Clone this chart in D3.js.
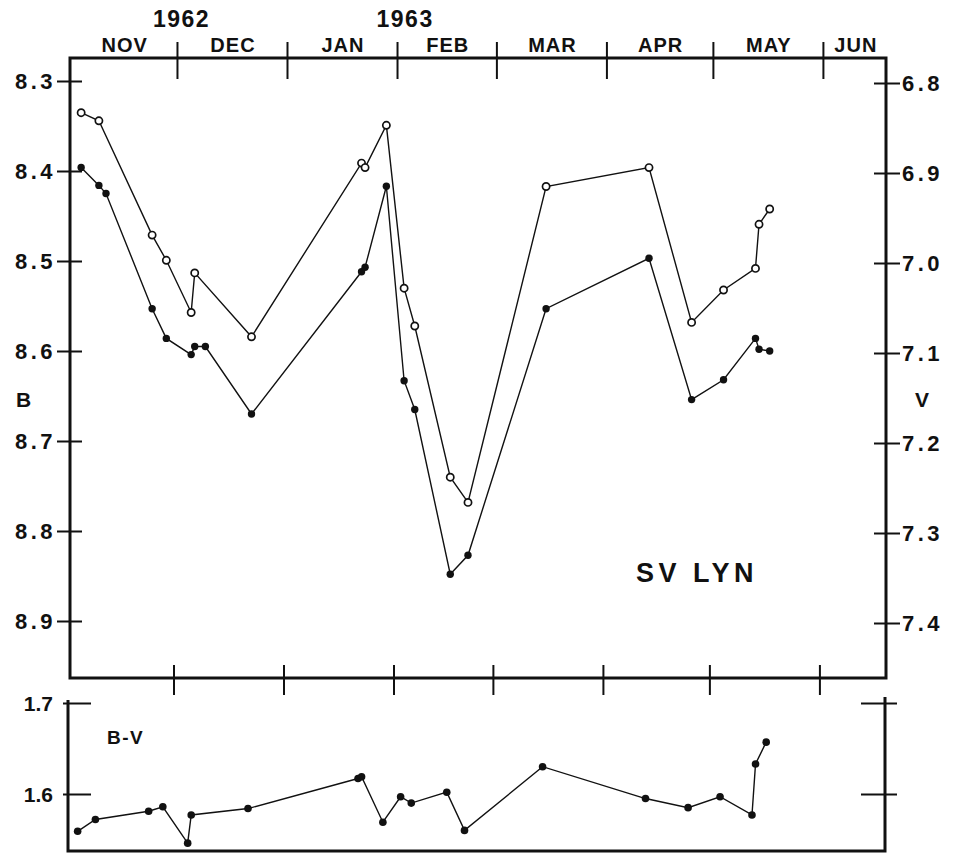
<!DOCTYPE html>
<html>
<head>
<meta charset="utf-8">
<script src="https://d3js.org/d3.v7.min.js"></script>
<style>
body { margin: 0; background: #fff; }
svg text { font-family: "Liberation Sans", Arial, sans-serif; font-weight: bold; fill: #111; }
</style>
</head>
<body>
<script>
/* SV Lyn, B and V light curve with B-V colour
 * nov 1962 - may 1963
 */

// nights with V and B-V
var dates = ["1962-11-04","1962-11-09","1962-11-24","1962-11-28","1962-12-05","1962-12-06","1962-12-22",
  "1963-01-22","1963-01-23","1963-01-29","1963-02-03","1963-02-06","1963-02-16","1963-02-21",
  "1963-03-15","1963-04-13","1963-04-25","1963-05-04","1963-05-13","1963-05-14","1963-05-17"];
var vMag = [6.833,6.842,6.969,6.997,7.055,7.011,7.082,
  6.889,6.894,6.847,7.028,7.070,7.238,7.266,
  6.915,6.894,7.066,7.030,7.006,6.957,6.940];
var bvColor = [1.559,1.572,1.581,1.586,1.546,1.577,1.584,
  1.617,1.619,1.569,1.597,1.590,1.602,1.560,
  1.630,1.595,1.585,1.597,1.577,1.633,1.657];

// B has two extra nights (nov 11, dec 9)
var bDates = ["1962-11-04","1962-11-09","1962-11-11","1962-11-24","1962-11-28","1962-12-05","1962-12-06","1962-12-09","1962-12-22",
  "1963-01-22","1963-01-23","1963-01-29","1963-02-03","1963-02-06","1963-02-16","1963-02-21",
  "1963-03-15","1963-04-13","1963-04-25","1963-05-04","1963-05-13","1963-05-14","1963-05-17"];
var bMag = [8.396,8.416,8.425,8.553,8.586,8.604,8.595,8.595,8.670,
  8.512,8.507,8.417,8.633,8.665,8.848,8.827,
  8.553,8.497,8.654,8.632,8.586,8.598,8.600];

var months = ["NOV","DEC","JAN","FEB","MAR","APR","MAY","JUN"];
var monthStarts = ["1962-11-01","1962-12-01","1963-01-01","1963-02-01","1963-03-01","1963-04-01","1963-05-01","1963-06-01"];
var years = ["1962","1963"];
var yearDates = ["1962-12-02","1963-02-03"];

var bTicks = [8.3,8.4,8.5,8.6,8.7,8.8,8.9];
var vTicks = [6.8,6.9,7.0,7.1,7.2,7.3,7.4];
var bvTicks = [1.6,1.7];

var parse = d3.utcParse("%Y-%m-%d");
var fmt = d3.format(".1f");

var svg = d3.select("body")
            .append("svg")
            .attr("width", 954)
            .attr("height", 853);

// frames
var box = {left: 70, right: 886, top: 58, bottom: 678};
var low = {left: 68, right: 885, top: 697, bottom: 851};

// scales
var x = d3.scaleUtc()
    .domain([parse("1962-11-01"), parse("1963-06-19")])
    .range([70.5, 886.8]);
// the lower panel sits a few px to the left in the original
var xLow = x.copy().range([67, 883.3]);

var yB = d3.scaleLinear().domain([8.3, 8.9]).range([81, 621]);
var yV = d3.scaleLinear().domain([6.8, 7.4]).range([83, 623]);
var yBV = d3.scaleLinear().domain([1.6, 1.7]).range([794, 703]);

// join the arrays
var vData = dates.map(function(d, i) { return {date: parse(d), mag: vMag[i]}; });
var bData = bDates.map(function(d, i) { return {date: parse(d), mag: bMag[i]}; });
var bvData = dates.map(function(d, i) { return {date: parse(d), mag: bvColor[i]}; });

// main box
svg.append("rect")
    .attr("x", box.left)
    .attr("y", box.top)
    .attr("width", box.right - box.left)
    .attr("height", box.bottom - box.top)
    .style("fill", "none")
    .style("stroke", "#111")
    .style("stroke-width", 3);

// lower box, open at the top
svg.append("path")
    .attr("d", "M" + low.left + "," + 700 + "V" + low.bottom + "H" + low.right + "V" + low.top)
    .style("fill", "none")
    .style("stroke", "#111")
    .style("stroke-width", 3);

// month ticks top
var monthTickDates = monthStarts.slice(1).map(parse);
var topAxis = svg.append("g")
    .attr("transform", "translate(0," + box.top + ")")
    .call(d3.axisTop(x).tickValues(monthTickDates).tickFormat("").tickSizeOuter(0));
topAxis.select(".domain").remove();
topAxis.selectAll(".tick line")
    .attr("y1", 21).attr("y2", -16)
    .style("stroke", "#111").style("stroke-width", 2);

// month ticks bottom
var botAxis = svg.append("g")
    .attr("transform", "translate(0," + box.bottom + ")")
    .call(d3.axisBottom(xLow).tickValues(monthTickDates).tickFormat("").tickSizeOuter(0));
botAxis.select(".domain").remove();
botAxis.selectAll(".tick line")
    .attr("y1", -13).attr("y2", 17)
    .style("stroke", "#111").style("stroke-width", 2);

// month names, centred between the ticks
svg.append("g").selectAll("text")
    .data(months)
  .enter().append("text")
    .attr("x", function(d, i) {
      var a = x(parse(monthStarts[i]));
      var b = i < months.length - 1 ? x(parse(monthStarts[i + 1])) : x.range()[1];
      return (a + Math.min(b, x.range()[1])) / 2 + 1;
    })
    .attr("y", 52)
    .attr("text-anchor", "middle")
    .style("font-size", "20px")
    .style("letter-spacing", "1px")
    .text(function(d) { return d; });

// years
svg.append("g").selectAll("text")
    .data(years)
  .enter().append("text")
    .attr("x", function(d, i) { return x(parse(yearDates[i])) + 1; })
    .attr("y", 27)
    .attr("text-anchor", "middle")
    .style("font-size", "23px")
    .style("letter-spacing", "1.5px")
    .text(function(d) { return d; });

// left B axis
var leftAxis = svg.append("g")
    .attr("transform", "translate(" + box.left + ",0)")
    .call(d3.axisLeft(yB).tickValues(bTicks).tickFormat(fmt).tickSizeOuter(0));
leftAxis.select(".domain").remove();
leftAxis.selectAll(".tick line")
    .attr("x1", 12).attr("x2", -13)
    .style("stroke", "#111").style("stroke-width", 2);
leftAxis.selectAll(".tick text")
    .attr("x", -14)
    .attr("dy", "0.36em")
    .attr("fill", "#111")
    .style("font-size", "22px")
    .style("letter-spacing", "3.5px")
    .style("font-family", null);

// right V axis
var rightAxis = svg.append("g")
    .attr("transform", "translate(" + box.right + ",0)")
    .call(d3.axisRight(yV).tickValues(vTicks).tickFormat(fmt).tickSizeOuter(0));
rightAxis.select(".domain").remove();
rightAxis.selectAll(".tick line")
    .attr("x1", -12).attr("x2", 14)
    .style("stroke", "#111").style("stroke-width", 2);
rightAxis.selectAll(".tick text")
    .attr("x", 16)
    .attr("dy", "0.36em")
    .attr("fill", "#111")
    .style("font-size", "22px")
    .style("letter-spacing", "3.5px")
    .style("font-family", null);

// axis names
svg.append("text").attr("x", 16).attr("y", 407).style("font-size", "21px").text("B");
svg.append("text").attr("x", 915).attr("y", 407).style("font-size", "21px").text("V");

// lower panel axes
var lowLeft = svg.append("g")
    .attr("transform", "translate(" + low.left + ",0)")
    .call(d3.axisLeft(yBV).tickValues(bvTicks).tickFormat(fmt).tickSizeOuter(0));
lowLeft.select(".domain").remove();
lowLeft.selectAll(".tick line")
    .attr("x1", 23).attr("x2", -5)
    .style("stroke", "#111").style("stroke-width", 2);
lowLeft.selectAll(".tick text")
    .attr("x", -15)
    .attr("dy", "0.36em")
    .attr("fill", "#111")
    .style("font-size", "21px")
    .style("font-family", null);

var lowRight = svg.append("g")
    .attr("transform", "translate(" + low.right + ",0)")
    .call(d3.axisRight(yBV).tickValues(bvTicks).tickFormat("").tickSizeOuter(0));
lowRight.select(".domain").remove();
lowRight.selectAll(".tick line")
    .attr("x1", -24).attr("x2", 12)
    .style("stroke", "#111").style("stroke-width", 2);

svg.append("text")
    .attr("x", 107).attr("y", 744)
    .style("font-size", "19px")
    .style("letter-spacing", "1.5px")
    .text("B-V");

svg.append("text")
    .attr("x", 636).attr("y", 582)
    .style("font-size", "27px")
    .style("letter-spacing", "4.5px")
    .text("SV LYN");

// line builders
function lineFor(xs, ys) {
  return d3.line()
    .x(function(d) { return xs(d.date); })
    .y(function(d) { return ys(d.mag); });
}

// V, open circles
svg.append("path")
    .datum(vData)
    .attr("d", lineFor(x, yV))
    .style("fill", "none").style("stroke", "#111").style("stroke-width", 1.4);
svg.append("g").selectAll("circle")
    .data(vData)
  .enter().append("circle")
    .attr("cx", function(d) { return x(d.date); })
    .attr("cy", function(d) { return yV(d.mag); })
    .attr("r", 3.6)
    .style("fill", "#fff").style("stroke", "#111").style("stroke-width", 1.7);

// B, filled
svg.append("path")
    .datum(bData)
    .attr("d", lineFor(x, yB))
    .style("fill", "none").style("stroke", "#111").style("stroke-width", 1.4);
svg.append("g").selectAll("circle")
    .data(bData)
  .enter().append("circle")
    .attr("cx", function(d) { return x(d.date); })
    .attr("cy", function(d) { return yB(d.mag); })
    .attr("r", 3.7)
    .style("fill", "#111");

// B-V
svg.append("path")
    .datum(bvData)
    .attr("d", lineFor(xLow, yBV))
    .style("fill", "none").style("stroke", "#111").style("stroke-width", 1.4);
svg.append("g").selectAll("circle")
    .data(bvData)
  .enter().append("circle")
    .attr("cx", function(d) { return xLow(d.date); })
    .attr("cy", function(d) { return yBV(d.mag); })
    .attr("r", 3.8)
    .style("fill", "#111");
</script>
</body>
</html>
